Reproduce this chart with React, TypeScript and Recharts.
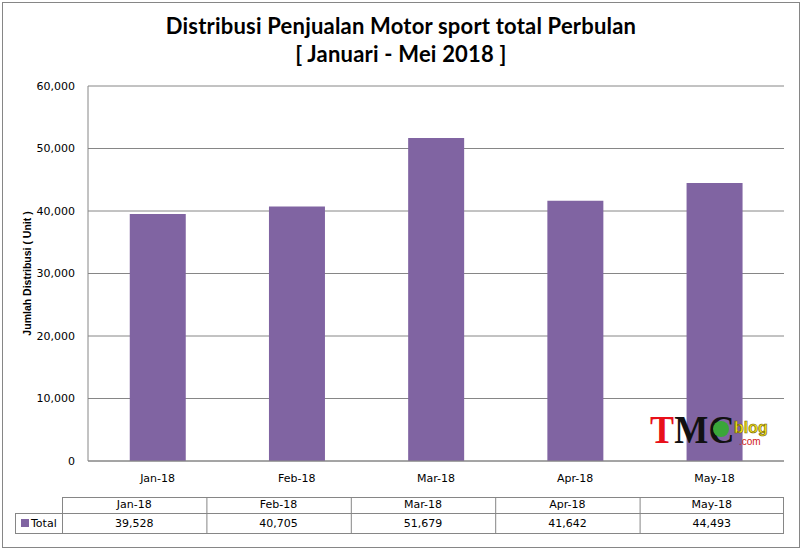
import { BarChart, Bar, XAxis, YAxis, CartesianGrid } from 'recharts';

const months = ['Jan-18', 'Feb-18', 'Mar-18', 'Apr-18', 'May-18'];
const totals = [39528, 40705, 51679, 41642, 44493];
const yTicks = [0, 10000, 20000, 30000, 40000, 50000, 60000];

const data = months.map((m, i) => ({ month: m, total: totals[i] }));

const fmt = (v: number) => v.toLocaleString('en-US');
const grey = '#868686';
const purple = '#8064A2';
const tickFont = { fill: '#000', fontSize: 11, fontFamily: 'DejaVu Sans' };

// data table under the chart
const tableLeft = 62;
const tableRight = 784;
const colW = (tableRight - tableLeft) / months.length;

function DataTable() {
  return (
    <g fontFamily="DejaVu Sans" fontSize={11} fill="#000">
      <line x1={tableLeft} y1={497.5} x2={tableRight} y2={497.5} stroke={grey} />
      <line x1={15} y1={513.5} x2={tableRight} y2={513.5} stroke={grey} />
      <line x1={15} y1={533.5} x2={tableRight} y2={533.5} stroke={grey} />
      <line x1={15.5} y1={513} x2={15.5} y2={534} stroke={grey} />
      {months.map((m, i) => (
        <line key={'v' + m} x1={tableLeft + i * colW + 0.5} y1={497} x2={tableLeft + i * colW + 0.5} y2={534} stroke={grey} />
      ))}
      <line x1={tableRight - 0.5} y1={497} x2={tableRight - 0.5} y2={534} stroke={grey} />
      {months.map((m, i) => (
        <text key={'h' + m} x={tableLeft + (i + 0.5) * colW} y={508} textAnchor="middle">{m}</text>
      ))}
      {totals.map((v, i) => (
        <text key={'t' + i} x={tableLeft + (i + 0.5) * colW} y={527} textAnchor="middle">{fmt(v)}</text>
      ))}
      <rect x={21} y={519} width={8} height={8} fill={purple} />
      <text x={31} y={527}>Total</text>
    </g>
  );
}

function Logo() {
  return (
    <g>
      <g transform="translate(650,443) scale(0.9,1)">
        <text x={0} y={0} fontFamily="Liberation Serif" fontWeight="bold" fontSize={40} fill="#e8101a">T</text>
        <text x={27} y={0} fontFamily="Liberation Serif" fontWeight="bold" fontSize={40} fill="#111">M</text>
        <text x={65} y={0} fontFamily="Liberation Serif" fontWeight="bold" fontSize={40} fill="#111">C</text>
      </g>
      <circle cx={721} cy={429} r={8} fill="#3aa63a" />
      <text x={734} y={433} fontFamily="Liberation Sans" fontWeight="bold" fontSize={16} fill="#f4e21a" stroke="#6b5a00" strokeWidth={0.6}>blog</text>
      <text x={739} y={445} fontFamily="Liberation Sans" fontSize={10} fill="#d02020">.com</text>
    </g>
  );
}

export default function App() {
  return (
    <div style={{ position: 'relative', width: 802, height: 550, background: '#fff' }}>
      <style>{'body{margin:0}'}</style>
      <div style={{ position: 'absolute', left: 0, top: 0 }}>
        <BarChart
          width={802}
          height={550}
          data={data}
          margin={{ top: 86, right: 18, bottom: 59, left: 20 }}
          barCategoryGap="30%"
        >
          <CartesianGrid vertical={false} stroke={grey} />
          <XAxis
            dataKey="month"
            height={30}
            axisLine={{ stroke: grey }}
            tickLine={false}
            tickSize={0}
            tickMargin={13}
            tick={tickFont}
          />
          <YAxis
            width={68}
            domain={[0, 60000]}
            ticks={yTicks}
            tickFormatter={fmt}
            axisLine={{ stroke: grey }}
            tickLine={false}
            tickSize={0}
            tickMargin={13}
            tick={tickFont}
            label={{
              value: 'Jumlah Distribusi ( Unit )',
              angle: -90,
              position: 'insideLeft',
              offset: 7,
              style: { textAnchor: 'middle', fontFamily: 'Liberation Sans', fontWeight: 'bold', fontSize: 10.5, fill: '#000' },
            }}
          />
          <Bar dataKey="total" fill={purple} isAnimationActive={false} />
        </BarChart>
      </div>
      <svg width={802} height={550} style={{ position: 'absolute', left: 0, top: 0, pointerEvents: 'none' }}>
        <rect x={2.5} y={2.5} width={797} height={545} fill="none" stroke={grey} />
        <text x={401} y={34} textAnchor="middle" fontFamily="Lato" fontWeight="bold" fontSize={22} letterSpacing={0.2} fill="#000">
          Distribusi Penjualan Motor sport total Perbulan
        </text>
        <text x={401} y={62} textAnchor="middle" fontFamily="Lato" fontWeight="bold" fontSize={22} letterSpacing={0.2} fill="#000">
          [ Januari - Mei 2018 ]
        </text>
        <DataTable />
        <Logo />
      </svg>
    </div>
  );
}
